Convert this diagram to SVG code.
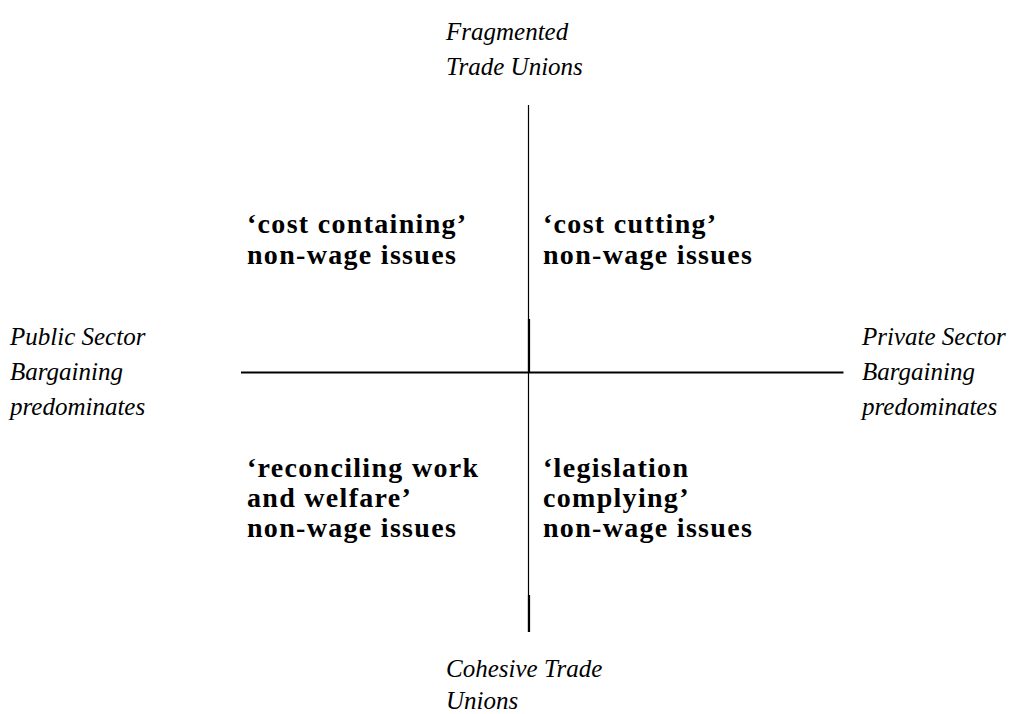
<svg xmlns="http://www.w3.org/2000/svg" width="1009" height="714" viewBox="0 0 1009 714">
<style>
.axis{font-family:"Liberation Serif","DejaVu Serif",serif;font-style:italic;font-size:25px;fill:#000}
.quad{font-family:"Liberation Serif","DejaVu Serif",serif;font-weight:bold;font-size:28px;letter-spacing:1.3px;fill:#000}
.thin{stroke:#000;stroke-width:1.2;fill:none}
.thick{stroke:#000;stroke-width:2.2;fill:none}
</style>
<rect width="1009" height="714" fill="#fff"/>
<g id="connectors">
<line class="thin" x1="528.5" y1="105" x2="528.5" y2="632"/>
<line class="thick" x1="529" y1="319" x2="529" y2="372"/>
<line class="thick" x1="529" y1="595" x2="529" y2="632"/>
<line class="thick" x1="241" y1="372.5" x2="843.5" y2="372.5"/>
</g>
<g id="top-label"><text class="axis" x="446" y="40">Fragmented</text><text class="axis" x="446" y="75">Trade Unions</text></g>
<g id="bottom-label"><text class="axis" x="446" y="677">Cohesive Trade</text><text class="axis" x="446" y="709">Unions</text></g>
<g id="left-label"><text class="axis" x="10" y="345">Public Sector</text><text class="axis" x="10" y="380">Bargaining</text><text class="axis" x="10" y="415">predominates</text></g>
<g id="right-label"><text class="axis" x="862" y="345">Private Sector</text><text class="axis" x="862" y="380">Bargaining</text><text class="axis" x="862" y="415">predominates</text></g>
<g id="q-top-left"><text class="quad" x="247" y="233">‘cost containing’</text><text class="quad" x="247" y="264">non-wage issues</text></g>
<g id="q-top-right"><text class="quad" x="543" y="233">‘cost cutting’</text><text class="quad" x="543" y="264">non-wage issues</text></g>
<g id="q-bottom-left"><text class="quad" x="247" y="477">‘reconciling work</text><text class="quad" x="247" y="507">and welfare’</text><text class="quad" x="247" y="537">non-wage issues</text></g>
<g id="q-bottom-right"><text class="quad" x="543" y="477">‘legislation</text><text class="quad" x="543" y="507">complying’</text><text class="quad" x="543" y="537">non-wage issues</text></g>
</svg>
